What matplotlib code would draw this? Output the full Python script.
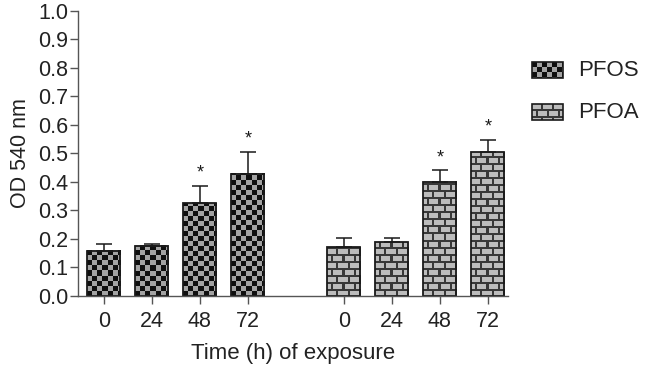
import numpy as np
import matplotlib
matplotlib.use("Agg")
import matplotlib.pyplot as plt

plt.rcParams['font.family'] = ['Liberation Sans', 'DejaVu Sans']

# ---- data ----
times = ['0', '24', '48', '72']
pfos_mean = [0.158, 0.176, 0.325, 0.428]
pfos_err = [0.025, 0.006, 0.061, 0.077]
pfos_sig = [False, False, True, True]
pfoa_mean = [0.171, 0.188, 0.401, 0.504]
pfoa_err = [0.033, 0.017, 0.040, 0.043]
pfoa_sig = [False, False, True, True]
series_names = ['PFOS', 'PFOA']

W, H = 646, 368
DPI = 100
fig = plt.figure(figsize=(W / DPI, H / DPI), dpi=DPI)
ax = fig.add_axes([78 / W, 1 - 296 / H, (508 - 78) / W, (296 - 10.7) / H])

pfos_x = np.arange(len(times))
pfoa_x = np.arange(len(times)) + 5
ax.set_xlim(-0.54, 8.42)
ax.set_ylim(0, 1.0)
bw = 0.69


def checker(h, w, s=5):
    yy, xx = np.mgrid[0:h, 0:w]
    m = ((yy // s) + (xx // s)) % 2 == 0
    img = np.empty((h, w, 3))
    img[m] = [0.06, 0.06, 0.06]
    img[~m] = [0.64, 0.64, 0.64]
    return img


def brick(h, w):
    yy, xx = np.mgrid[0:h, 0:w]
    row = yy // 7
    inrow = yy % 7
    off = (row % 2) * 5
    gap = ((xx + off) % 11) >= 9
    dark = (inrow >= 5) | gap
    img = np.empty((h, w, 3))
    img[dark] = [0.22, 0.22, 0.22]
    img[~dark] = [0.74, 0.74, 0.74]
    return img


def texture_bars(axis, bars, fn):
    for b in bars:
        x0, y0 = b.get_x(), b.get_y()
        x1, y1 = x0 + b.get_width(), y0 + b.get_height()
        p0 = axis.transData.transform((x0, y0))
        p1 = axis.transData.transform((x1, y1))
        wpx = max(1, int(round(abs(p1[0] - p0[0]))))
        hpx = max(1, int(round(abs(p1[1] - p0[1]))))
        img = fn(hpx, wpx)
        axis.imshow(img, extent=(x0, x1, y0, y1), origin='lower',
                    interpolation='nearest', aspect='auto', zorder=1)


bars1 = ax.bar(pfos_x, pfos_mean, width=bw, facecolor='none',
               edgecolor='#1a1a1a', linewidth=1.3, zorder=2)
bars2 = ax.bar(pfoa_x, pfoa_mean, width=bw, facecolor='none',
               edgecolor='#1a1a1a', linewidth=1.3, zorder=2)
texture_bars(ax, bars1, checker)
texture_bars(ax, bars2, brick)
ax.set_xlim(-0.54, 8.42)
ax.set_ylim(0, 1.0)

for xs, m, e, sig in [(pfos_x, pfos_mean, pfos_err, pfos_sig),
                      (pfoa_x, pfoa_mean, pfoa_err, pfoa_sig)]:
    ax.errorbar(xs, m, yerr=[np.zeros(len(e)), e], fmt='none',
                ecolor='#1a1a1a', elinewidth=1.1, capsize=6, capthick=1.1,
                zorder=3)
    for xi, mi, ei, s in zip(xs, m, e, sig):
        if s:
            ax.annotate('*', (xi, mi + ei), xytext=(0, 3),
                        textcoords='offset points', ha='center', va='bottom',
                        fontsize=13, color='#1a1a1a')

ax.set_xticks(list(pfos_x) + list(pfoa_x))
ax.set_xticklabels(times + times)
ax.set_yticks(np.arange(0, 1.01, 0.1))
ax.set_yticklabels([f'{v:.1f}' for v in np.arange(0, 1.01, 0.1)])
ax.tick_params(axis='both', direction='out', length=6, width=1.0,
               colors='#555555', labelcolor='#222222', labelsize=15.5)
ax.tick_params(axis='x', pad=5)
ax.tick_params(axis='y', pad=1)
for s in ['top', 'right']:
    ax.spines[s].set_visible(False)
for s in ['left', 'bottom']:
    ax.spines[s].set_color('#555555')
    ax.spines[s].set_linewidth(1.0)
ax.set_ylabel('OD 540 nm', fontsize=15.5, color='#222222', labelpad=5)
ax.set_xlabel('Time (h) of exposure', fontsize=16, color='#222222',
              labelpad=8)

# ---- legend (drawn in pixel coordinates) ----
lax = fig.add_axes([0, 0, 1, 1], zorder=5)
lax.set_xlim(0, W)
lax.set_ylim(H, 0)
lax.axis('off')
lax.patch.set_alpha(0)
leg_y = [70, 112]
for name, yc, fn in zip(series_names, leg_y, [checker, brick]):
    lb = lax.bar([547], [16], width=31, bottom=yc - 8, facecolor='none',
                 edgecolor='#1a1a1a', linewidth=1.2, zorder=2)
    texture_bars(lax, lb, fn)
    lax.text(578, yc, name, fontsize=16, va='center', ha='left',
             color='#222222')
lax.set_xlim(0, W)
lax.set_ylim(H, 0)

fig.savefig('out.png', dpi=DPI)
